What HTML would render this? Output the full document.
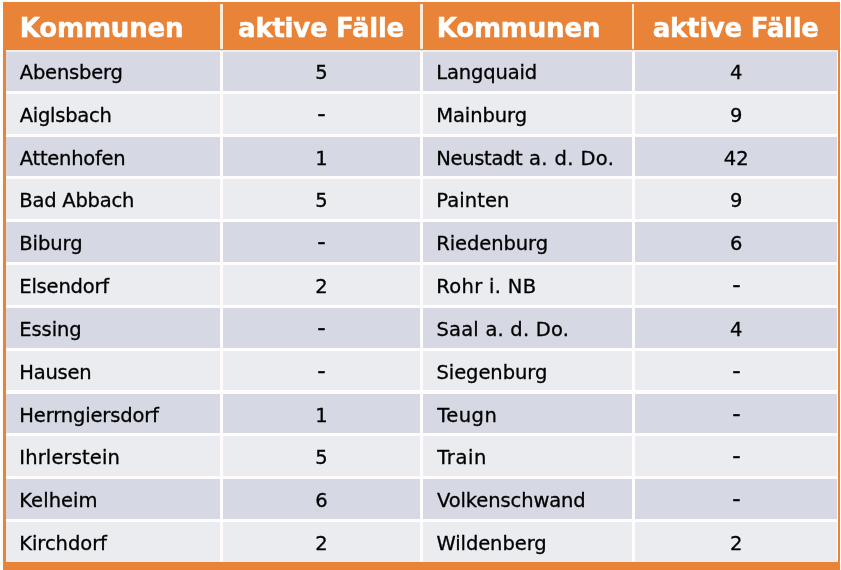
<!DOCTYPE html>
<html lang="de">
<head>
<meta charset="utf-8">
<title>Kommunen – aktive Fälle</title>
<style>
html,body{margin:0;padding:0;}
body{width:841px;height:570px;background:#fffdfa;overflow:hidden;position:relative;font-family:"DejaVu Sans","Liberation Sans",sans-serif;}
#frame{position:absolute;left:3px;top:2px;width:837px;height:568px;background:#e88337;}
#inner{position:absolute;left:6px;top:50px;width:832px;height:511.6px;background:#fefcfd;}
#hline{position:absolute;left:6px;top:50px;width:832px;height:1.6px;background:#f8ede6;}
.hd{position:absolute;top:3.5px;height:48px;color:#fff;-webkit-text-stroke:0.5px #fff;font-weight:bold;font-size:26px;line-height:48px;white-space:nowrap;}
.hd span{display:inline-block;}
.hsep{position:absolute;top:4px;height:44.5px;width:3px;background:#fdebd6;}
.r{position:absolute;left:6px;width:832px;height:39.7px;}
.c{position:absolute;top:0;height:100%;font-size:19.5px;line-height:39.7px;color:#000;-webkit-text-stroke:0.3px #000;white-space:nowrap;}
.d .c{background:#d6d9e3;}
.l .c{background:#ebecf0;}
.c1{left:0;width:214px;}
.c2{left:217px;width:197px;text-align:center;}
.c3{left:417px;width:209px;}
.c4{left:629px;width:202.3px;text-align:center;}
.c1 span{position:relative;left:13px;}
.c3 span{position:relative;left:13px;}
.c span{position:relative;top:2px;display:inline-block;}
.c span i{font-style:normal;letter-spacing:-0.32px;}
.c span.dash{top:-0.1px;transform:scale(1.2,1.15);}
</style>
</head>
<body>
<div id="frame"></div>
<div id="inner"></div>
<div class="hd" style="left:20px"><span style="letter-spacing:-0.18px;margin-left:-0.23px">Kommunen</span></div>
<div class="hd" style="left:223px;width:197px;text-align:center"><span style="letter-spacing:-0.27px;margin-left:-0.97px">aktive Fälle</span></div>
<div class="hd" style="left:436px"><span style="letter-spacing:-0.17px;margin-left:0.71px">Kommunen</span></div>
<div class="hd" style="left:634px;width:204px;text-align:center"><span style="letter-spacing:-0.25px;margin-left:-0.64px">aktive Fälle</span></div>
<div class="hsep" style="left:220px"></div>
<div class="hsep" style="left:420px"></div>
<div class="hsep" style="left:632px;width:2px"></div>
<div class="r d" style="top:51.00px"><div class="c c1"><span style="letter-spacing:-0.19px;margin-left:0.74px">Abensberg</span></div><div class="c c2"><span>5</span></div><div class="c c3"><span style="letter-spacing:-0.14px;margin-left:0.25px">Langquaid</span></div><div class="c c4"><span>4</span></div></div>
<div class="r l" style="top:93.83px"><div class="c c1"><span style="letter-spacing:-0.25px;margin-left:0.73px">Aiglsbach</span></div><div class="c c2"><span class="dash">-</span></div><div class="c c3"><span style="letter-spacing:-0.07px;margin-left:0.24px">Mainburg</span></div><div class="c c4"><span>9</span></div></div>
<div class="r d" style="top:136.66px"><div class="c c1"><span style="letter-spacing:-0.24px;margin-left:0.74px">Attenhofen</span></div><div class="c c2"><span>1</span></div><div class="c c3"><span style="letter-spacing:0.38px;margin-left:0.25px"><i>Neustadt</i> a. d. Do.</span></div><div class="c c4"><span>42</span></div></div>
<div class="r l" style="top:179.49px"><div class="c c1"><span style="letter-spacing:-0.21px;margin-left:0.24px">Bad Abbach</span></div><div class="c c2"><span>5</span></div><div class="c c3"><span style="letter-spacing:0.09px;margin-left:0.24px">Painten</span></div><div class="c c4"><span>9</span></div></div>
<div class="r d" style="top:222.32px"><div class="c c1"><span style="letter-spacing:-0.06px;margin-left:0.25px">Biburg</span></div><div class="c c2"><span class="dash">-</span></div><div class="c c3"><span style="letter-spacing:-0.08px;margin-left:0.25px">Riedenburg</span></div><div class="c c4"><span>6</span></div></div>
<div class="r l" style="top:265.15px"><div class="c c1"><span style="letter-spacing:-0.18px;margin-left:0.24px">Elsendorf</span></div><div class="c c2"><span>2</span></div><div class="c c3"><span style="letter-spacing:0.33px;margin-left:0.24px">Rohr i. NB</span></div><div class="c c4"><span class="dash">-</span></div></div>
<div class="r d" style="top:307.98px"><div class="c c1"><span style="letter-spacing:-0.07px;margin-left:0.25px">Essing</span></div><div class="c c2"><span class="dash">-</span></div><div class="c c3"><span style="letter-spacing:0.21px;margin-left:0.45px">Saal a. d. Do.</span></div><div class="c c4"><span>4</span></div></div>
<div class="r l" style="top:350.81px"><div class="c c1"><span style="letter-spacing:-0.21px;margin-left:0.24px">Hausen</span></div><div class="c c2"><span class="dash">-</span></div><div class="c c3"><span style="letter-spacing:-0.05px;margin-left:0.44px">Siegenburg</span></div><div class="c c4"><span class="dash">-</span></div></div>
<div class="r d" style="top:393.64px"><div class="c c1"><span style="letter-spacing:-0.14px;margin-left:0.25px">Herrngiersdorf</span></div><div class="c c2"><span>1</span></div><div class="c c3"><span style="letter-spacing:0.50px;margin-left:1.13px">Teugn</span></div><div class="c c4"><span class="dash">-</span></div></div>
<div class="r l" style="top:436.47px"><div class="c c1"><span style="letter-spacing:0.16px;margin-left:0.22px">Ihrlerstein</span></div><div class="c c2"><span>5</span></div><div class="c c3"><span style="letter-spacing:0.64px;margin-left:1.13px">Train</span></div><div class="c c4"><span class="dash">-</span></div></div>
<div class="r d" style="top:479.30px"><div class="c c1"><span style="letter-spacing:0.05px;margin-left:0.25px">Kelheim</span></div><div class="c c2"><span>6</span></div><div class="c c3"><span style="letter-spacing:-0.11px;margin-left:1.02px">Volkenschwand</span></div><div class="c c4"><span class="dash">-</span></div></div>
<div class="r l" style="top:522.13px"><div class="c c1"><span style="letter-spacing:-0.04px;margin-left:0.24px">Kirchdorf</span></div><div class="c c2"><span>2</span></div><div class="c c3"><span style="letter-spacing:-0.07px;margin-left:0.42px">Wildenberg</span></div><div class="c c4"><span>2</span></div></div>
<div id="hline"></div>
</body>
</html>
